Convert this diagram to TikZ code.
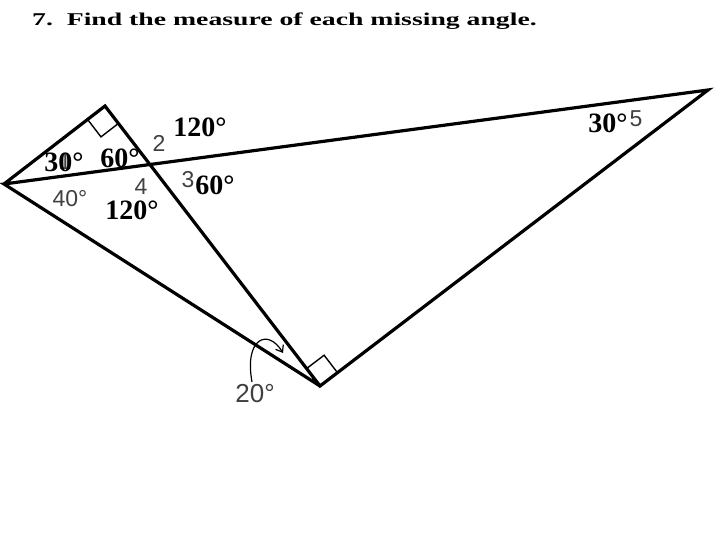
\documentclass[tikz,border=0pt]{standalone}
\usepackage{fontspec}
\setmainfont{Liberation Serif}
\newfontfamily\graysans{Liberation Sans}
\usetikzlibrary{calc,arrows.meta}
\definecolor{numgray}{RGB}{64,64,64}

\begin{document}
\begin{tikzpicture}[x=1pt,y=-1pt,
    edge/.style={line width=3.2pt,line join=miter},
    rightmark/.style={line width=1.4pt},
    answer/.style={font=\fontsize{28}{30}\selectfont\bfseries,inner sep=0pt,anchor=base},
    given/.style={font=\graysans\fontsize{23}{25}\selectfont,text=numgray,inner sep=0pt,anchor=base},
    >={Straight Barb[length=6pt,width=9pt]}]
  \useasboundingbox (0,0) rectangle (720,540);
  % title
  \node [anchor=base west,inner sep=0pt] (title) at (32,26) {\scalebox{1.54}[1]{\fontsize{18}{20}\selectfont\bfseries 7.\ \ Find the measure of each missing angle.}};
  % corners of the figure
  \coordinate (L) at (4,184);
  \coordinate (T) at (105,106);
  \coordinate (B) at (320,386);
  \coordinate (R) at (708,90);
  \draw [edge] (L) -- (T) -- (B) -- (R) -- (L) -- (B);
  % right angles
  \coordinate (tl) at ($(T)!22pt!(L)$);
  \coordinate (tb) at ($(T)!22pt!(B)$);
  \draw [rightmark] (tl) -- ($(tl)+(tb)-(T)$) -- (tb);
  \coordinate (bt) at ($(B)!22pt!(T)$);
  \coordinate (br) at ($(B)!22pt!(R)$);
  \draw [rightmark] (bt) -- ($(bt)+(br)-(B)$) -- (br);
  % given numbers
  \node [given] (n1) at (65,170) {1};
  \node [given] (n2) at (159,152) {2};
  \node [given] (n3) at (188,188) {3};
  \node [given] (n4) at (141,195) {4};
  \node [given] (n5) at (636,127) {5};
  \node [given] (g40) at (70,207) {40°};
  \node [given,font=\graysans\fontsize{26}{28}\selectfont] (g20) at (255,402) {20°};
  \coordinate (arrowstart) at (252,382);
  \coordinate (arrowend) at (283,353);
  \draw [->,line width=1.2pt] (arrowstart) .. controls (244,338) and (268,328) .. (arrowend);
  % answers
  \node [answer] (a1) at (64,172) {30°};
  \node [answer] (a2) at (200,137) {120°};
  \node [answer] (a3) at (215,195) {60°};
  \node [answer] (a4) at (132,220) {120°};
  \node [answer] (a5) at (120,168) {60°};
  \node [answer] (a6) at (608,133) {30°};
\end{tikzpicture}
\end{document}
